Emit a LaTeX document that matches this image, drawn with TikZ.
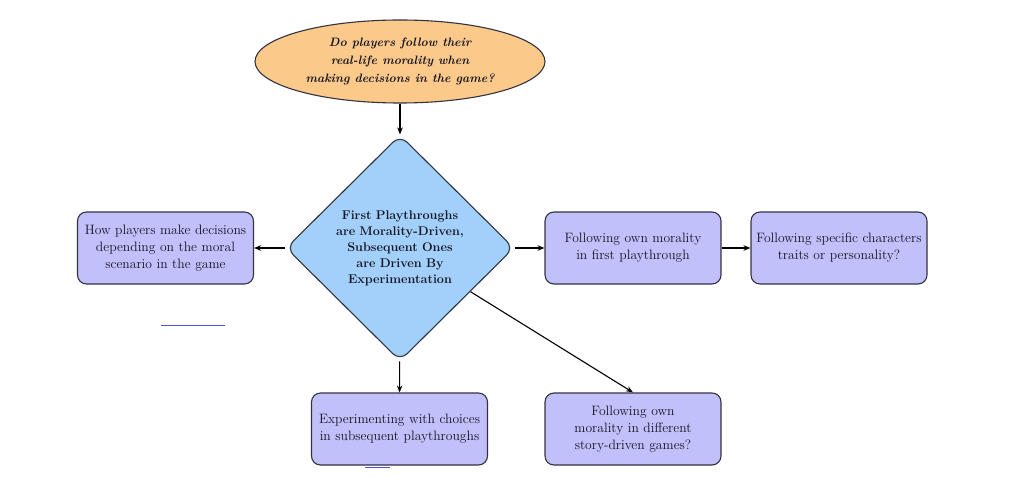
\documentclass[tikz,border=0pt]{standalone}
\usetikzlibrary{shapes.geometric,arrows.meta}
\definecolor{ellfill}{HTML}{FBC98A}
\definecolor{diafill}{HTML}{A2D0FA}
\definecolor{boxfill}{HTML}{C2C0FA}
\definecolor{boxdraw}{HTML}{33333F}
\definecolor{linkblue}{HTML}{5050E0}
\definecolor{txt}{HTML}{141422}
\begin{document}
\begin{tikzpicture}[x=1pt,y=-1pt,
  every node/.style={font=\fontsize{13.6}{17}\selectfont, align=center, text=txt},
  ellnode/.style={ellipse, draw=boxdraw, fill=ellfill, line width=1.1pt, minimum width=290pt, minimum height=83pt, inner sep=0pt, font=\fontsize{12.2}{18}\selectfont\bfseries\itshape},
  dianode/.style={diamond, draw=boxdraw, fill=diafill, line width=1.1pt, rounded corners=10pt, minimum width=228pt, minimum height=226pt, inner sep=0pt, text width=150pt, font=\fontsize{12.6}{16}\selectfont\bfseries},
  boxnode/.style={rectangle, draw=boxdraw, fill=boxfill, line width=1.1pt, rounded corners=9pt, minimum width=176pt, minimum height=72pt, inner sep=2pt, text width=172pt},
  arr/.style={-{Stealth[length=7pt,width=5.5pt]}, line width=1.1pt, black}
]
\useasboundingbox (0,0) rectangle (1024,481);
\node[ellnode] (q) at (400,61.5) {Do players follow their\\ real-life morality when\\ making decisions in the game?};
\node[dianode] (d) at (400,248) {First Playthroughs\\ are Morality-Driven,\\ Subsequent Ones\\ are Driven By\\ Experimentation};
\node[boxnode] (l) at (165.5,248) {How players make decisions\\ depending on the moral\\ scenario in the game};
\node[boxnode] (r1) at (633,248) {Following own morality\\ in first playthrough};
\node[boxnode] (r2) at (839,248) {Following specific characters\\ traits or personality?};
\node[boxnode] (b1) at (399.5,429) {Experimenting with choices\\ in subsequent playthroughs};
\node[boxnode] (b2) at (633,429) {Following own\\ morality in different\\ story-driven games?};
\draw[arr] (q) -- (d);
\draw[arr] (d) -- (l);
\draw[arr] (d) -- (r1);
\draw[arr] (r1) -- (r2);
\draw[arr] (d) -- (b1);
\draw[arr] (d) -- (b2.north);
\coordinate (u1a) at (161,325.5);
\coordinate (u1b) at (225,325.5);
\coordinate (u2a) at (365,467.5);
\coordinate (u2b) at (390,467.5);
\draw[linkblue, line width=0.8pt] (u1a) -- (u1b);
\draw[linkblue, line width=0.8pt] (u2a) -- (u2b);
\end{tikzpicture}
\end{document}
